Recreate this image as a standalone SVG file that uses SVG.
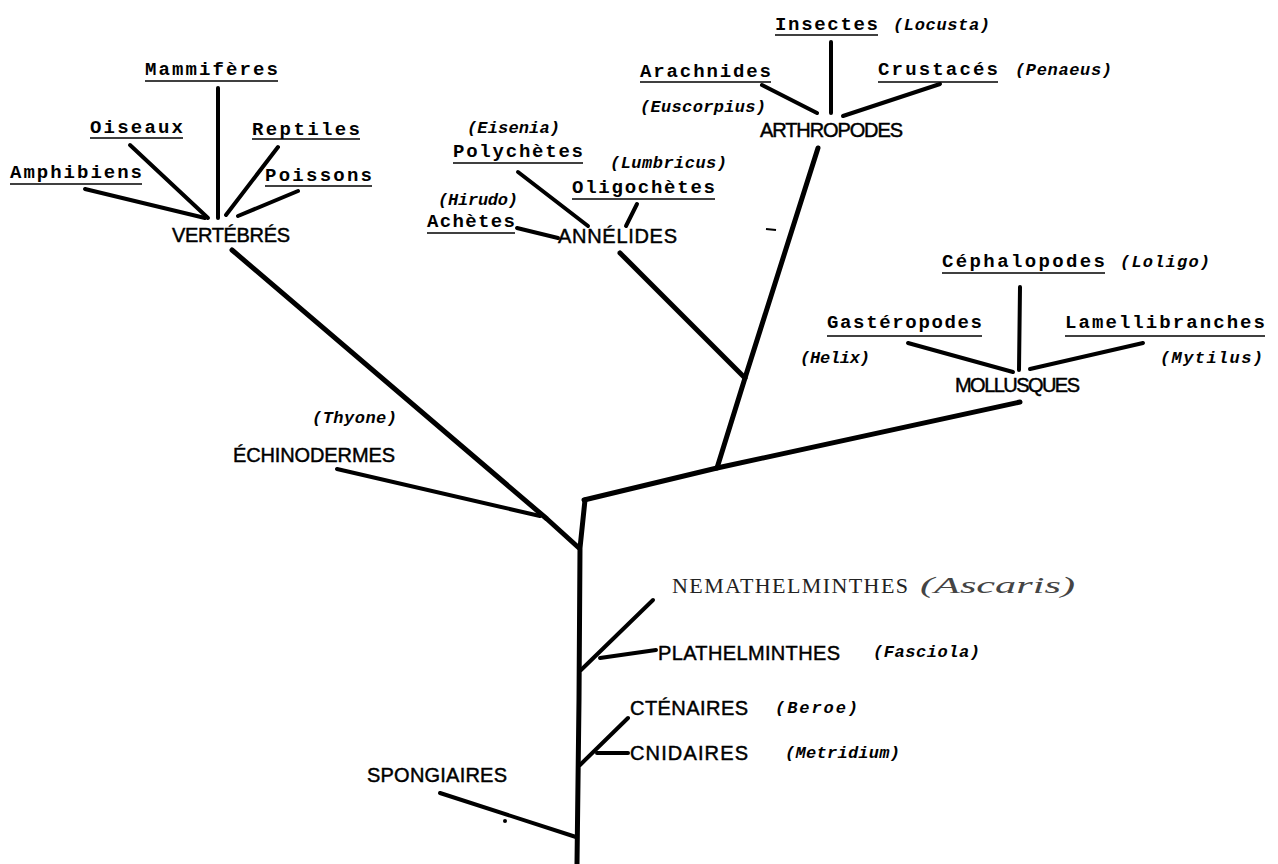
<svg xmlns="http://www.w3.org/2000/svg" width="1278" height="864" viewBox="0 0 1278 864">
<style>
.bg{fill:#fff}
.br{stroke:#000;stroke-width:5;fill:none;stroke-linecap:round;stroke-linejoin:round}
.sb{stroke:#000;stroke-width:4;fill:none;stroke-linecap:round}
.ul{stroke:#000;stroke-width:1.6}
.grp{font-family:"Liberation Mono","Courier New",monospace;font-weight:bold;font-size:19px;fill:#000}
.gen{font-family:"Liberation Mono","Courier New",monospace;font-style:italic;font-weight:bold;font-size:17px;fill:#000}
.tax{font-family:"Liberation Sans",Arial,sans-serif;font-size:20px;fill:#000;stroke:#000;stroke-width:0.45}
.ser{font-family:"Liberation Serif","Times New Roman",serif;font-size:22px;fill:#222}
.seri{font-family:"Liberation Serif","Times New Roman",serif;font-style:italic;font-size:23px;fill:#444}
</style>
<rect class="bg" x="0" y="0" width="1278" height="864"/>
<g id="connectors">
<polyline class="br" points="585,500 580,548 579,700 577,864"/>
<polyline class="br" points="584,500 717,468 1020,402"/>
<polyline class="br" points="717,468 745,378 818,148"/>
<line class="br" x1="745" y1="378" x2="620" y2="253"/>
<polyline class="br" points="579,548 547,519 232,250"/>
<line class="sb" x1="540" y1="516" x2="337" y2="469"/>
<line class="sb" x1="581" y1="670" x2="653" y2="600"/>
<line class="sb" x1="600" y1="658" x2="656" y2="650"/>
<line class="sb" x1="580" y1="765" x2="628" y2="718"/>
<line class="sb" x1="597" y1="753" x2="628" y2="753"/>
<line class="sb" x1="440" y1="793" x2="576" y2="837"/>
<line class="sb" x1="218" y1="88" x2="218" y2="218"/>
<line class="sb" x1="130" y1="145" x2="208" y2="218"/>
<line class="sb" x1="85" y1="189" x2="205" y2="218"/>
<line class="sb" x1="278" y1="147" x2="226" y2="215"/>
<line class="sb" x1="298" y1="191" x2="238" y2="216"/>
<line class="sb" x1="518" y1="172" x2="588" y2="226"/>
<line class="sb" x1="637" y1="204" x2="626" y2="226"/>
<line class="sb" x1="517" y1="228" x2="558" y2="238"/>
<line class="sb" x1="762" y1="85" x2="817" y2="113"/>
<line class="sb" x1="831" y1="42" x2="831" y2="113"/>
<line class="sb" x1="843" y1="116" x2="940" y2="84"/>
<line class="sb" x1="1020" y1="287" x2="1019" y2="370"/>
<line class="sb" x1="908" y1="343" x2="1013" y2="372"/>
<line class="sb" x1="1030" y1="369" x2="1143" y2="343"/>
<line stroke="#000" stroke-width="2" x1="766" y1="229" x2="776" y2="230"/>
<circle cx="505" cy="821" r="2" fill="#000"/>
</g>
<g id="vertebres">
<text class="tax" x="172" y="242" textLength="118">VERTÉBRÉS</text>
<text class="grp" x="145" y="75" textLength="133">Mammifères</text><line class="ul" x1="145" y1="81" x2="278" y2="81"/>
<text class="grp" x="90" y="133" textLength="93">Oiseaux</text><line class="ul" x1="90" y1="138" x2="183" y2="138"/>
<text class="grp" x="252" y="135" textLength="108">Reptiles</text><line class="ul" x1="252" y1="139" x2="360" y2="139"/>
<text class="grp" x="10" y="178" textLength="132">Amphibiens</text><line class="ul" x1="10" y1="184" x2="142" y2="184"/>
<text class="grp" x="265" y="181" textLength="107">Poissons</text><line class="ul" x1="265" y1="186" x2="372" y2="186"/>
</g>
<g id="annelides">
<text class="tax" x="558" y="243" textLength="119">ANNÉLIDES</text>
<text class="gen" x="467" y="133" textLength="93">(Eisenia)</text>
<text class="grp" x="453" y="157" textLength="130">Polychètes</text><line class="ul" x1="453" y1="163" x2="583" y2="163"/>
<text class="gen" x="610" y="168" textLength="117">(Lumbricus)</text>
<text class="grp" x="572" y="193" textLength="143">Oligochètes</text><line class="ul" x1="572" y1="199" x2="715" y2="199"/>
<text class="gen" x="438" y="205" textLength="80">(Hirudo)</text>
<text class="grp" x="427" y="227" textLength="88">Achètes</text><line class="ul" x1="427" y1="233" x2="515" y2="233"/>
</g>
<g id="arthropodes">
<text class="tax" x="760" y="137" textLength="143">ARTHROPODES</text>
<text class="grp" x="640" y="77" textLength="131">Arachnides</text><line class="ul" x1="640" y1="82" x2="771" y2="82"/>
<text class="gen" x="640" y="112" textLength="126">(Euscorpius)</text>
<text class="grp" x="775" y="30" textLength="103">Insectes</text><line class="ul" x1="775" y1="35" x2="878" y2="35"/>
<text class="gen" x="893" y="30" textLength="97">(Locusta)</text>
<text class="grp" x="878" y="75" textLength="120">Crustacés</text><line class="ul" x1="878" y1="82" x2="998" y2="82"/>
<text class="gen" x="1015" y="75" textLength="97">(Penaeus)</text>
</g>
<g id="mollusques">
<text class="tax" x="955" y="392" textLength="125">MOLLUSQUES</text>
<text class="grp" x="942" y="267" textLength="163">Céphalopodes</text><line class="ul" x1="942" y1="273" x2="1105" y2="273"/>
<text class="gen" x="1120" y="267" textLength="90">(Loligo)</text>
<text class="grp" x="827" y="328" textLength="155">Gastéropodes</text><line class="ul" x1="827" y1="336" x2="982" y2="336"/>
<text class="gen" x="800" y="363" textLength="70">(Helix)</text>
<text class="grp" x="1065" y="328" textLength="200">Lamellibranches</text><line class="ul" x1="1065" y1="336" x2="1265" y2="336"/>
<text class="gen" x="1160" y="363" textLength="103">(Mytilus)</text>
</g>
<g id="echinodermes">
<text class="gen" x="312" y="423" textLength="85">(Thyone)</text>
<text class="tax" x="233" y="462" textLength="162">ÉCHINODERMES</text>
</g>
<g id="nemathelminthes">
<text class="ser" x="672" y="593" textLength="236">NEMATHELMINTHES</text>
<text class="seri" x="920" y="593" textLength="155" lengthAdjust="spacingAndGlyphs">(Ascaris)</text>
</g>
<g id="plathelminthes">
<text class="tax" x="658" y="660" textLength="182">PLATHELMINTHES</text>
<text class="gen" x="873" y="657" textLength="107">(Fasciola)</text>
</g>
<g id="ctenaires">
<text class="tax" x="630" y="715" textLength="118">CTÉNAIRES</text>
<text class="gen" x="775" y="713" textLength="83">(Beroe)</text>
</g>
<g id="cnidaires">
<text class="tax" x="630" y="760" textLength="118">CNIDAIRES</text>
<text class="gen" x="785" y="758" textLength="115">(Metridium)</text>
</g>
<g id="spongiaires">
<text class="tax" x="367" y="782" textLength="140">SPONGIAIRES</text>
</g>
</svg>
